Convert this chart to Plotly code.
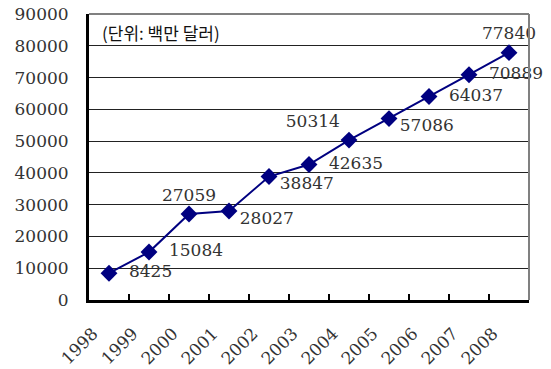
import plotly.graph_objects as go

years = ["1998", "1999", "2000", "2001", "2002", "2003", "2004", "2005", "2006", "2007", "2008"]
values = [8425, 15084, 27059, 28027, 38847, 42635, 50314, 57086, 64037, 70889, 77840]
label_pos = ["middle right", "middle right", "top center", "bottom right", "bottom right",
             "middle right", "top left", "bottom right", "middle right", "middle right", "top center"]
y_ticks = [0, 10000, 20000, 30000, 40000, 50000, 60000, 70000, 80000, 90000]
unit_note = "(단위: 백만 달러)"

FONT = "DejaVu Serif"
NAVY = "#000080"

# labels placed around the markers; "bottom right" ones go on a text-only trace
main_text = []
below_text = []
for v, p in zip(values, label_pos):
    if p == "bottom right":
        main_text.append("")
        below_text.append("  " + str(v))
    elif p == "middle right":
        main_text.append("  " + str(v))
        below_text.append("")
    else:
        main_text.append(str(v))
        below_text.append("")

fig = go.Figure()
fig.add_trace(go.Scatter(
    x=years, y=values, mode="lines+markers+text",
    line=dict(color=NAVY, width=2),
    marker=dict(symbol="diamond", size=13, color=NAVY),
    text=main_text, textposition=label_pos,
    textfont=dict(family=FONT, size=17, color="#333333"),
    cliponaxis=False, showlegend=False, hoverinfo="skip",
))
fig.add_trace(go.Scatter(
    x=years, y=values, mode="text",
    text=below_text, textposition="bottom right",
    textfont=dict(family=FONT, size=17, color="#333333"),
    cliponaxis=False, showlegend=False, hoverinfo="skip",
))

fig.update_layout(
    width=551, height=369,
    margin=dict(l=89, r=22, t=14, b=69),
    plot_bgcolor="white", paper_bgcolor="white",
    font=dict(family=FONT, size=17, color="#333333"),
    xaxis=dict(
        type="category", range=[-0.5, 10.5], tickson="boundaries", automargin=False,
        showgrid=False, showline=True, linecolor="black", linewidth=3,
        ticks="inside", ticklen=6, tickwidth=2, tickcolor="black",
        tickangle=-45, tickfont=dict(family=FONT, size=17, color="#333333"),
        ticklabelstandoff=14, ticklabelshift=-16,
    ),
    yaxis=dict(
        range=[0, 90000], tickvals=y_ticks, ticktext=[str(t) for t in y_ticks], automargin=False,
        showgrid=True, gridcolor="#222222", gridwidth=1,
        showline=True, linecolor="black", linewidth=3, zeroline=False,
        ticks="", tickfont=dict(family=FONT, size=17, color="#333333"),
        ticklabelstandoff=14,
    ),
    shapes=[
        dict(type="line", xref="paper", yref="paper", x0=0, x1=1, y0=1, y1=1,
             line=dict(color="#808080", width=2), layer="above"),
        dict(type="line", xref="paper", yref="paper", x0=1, x1=1, y0=0, y1=1,
             line=dict(color="#808080", width=2), layer="above"),
    ],
    annotations=[dict(
        text=unit_note, xref="paper", yref="paper", x=0.025, y=0.935,
        xanchor="left", yanchor="middle", showarrow=False,
        font=dict(family="Noto Sans CJK KR", size=17, color="#111111"),
    )],
)

fig.write_html("out.html")
